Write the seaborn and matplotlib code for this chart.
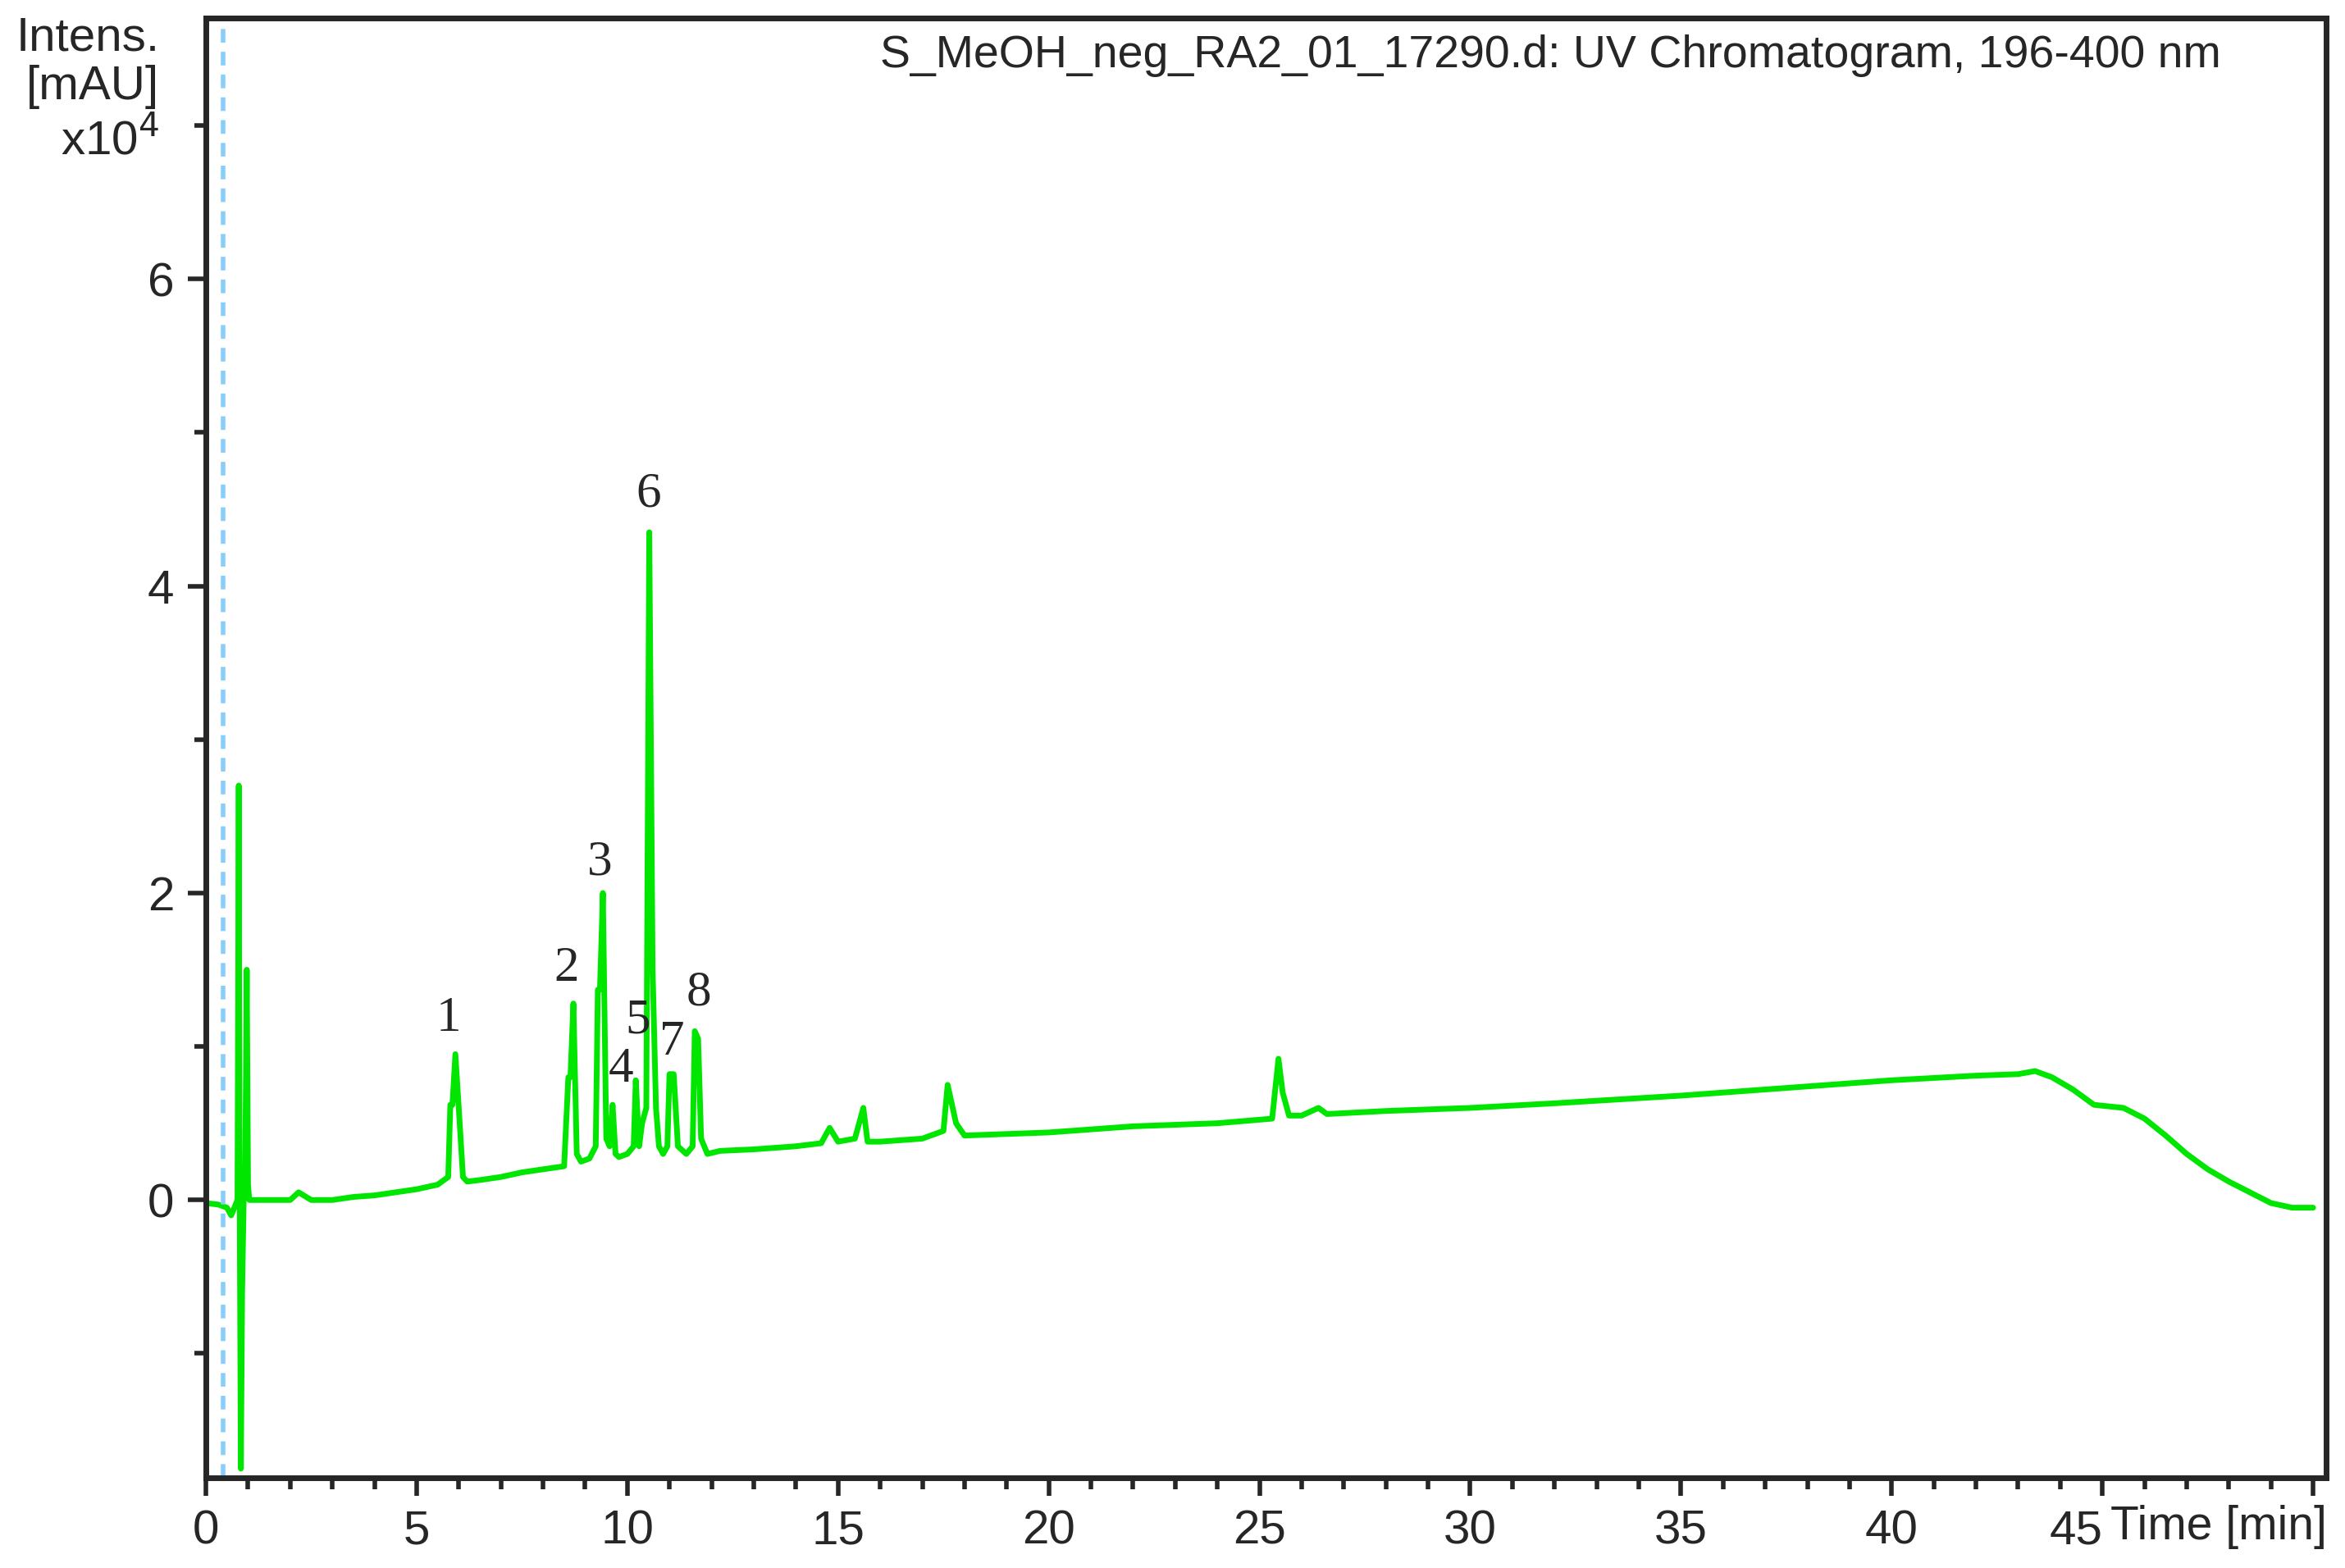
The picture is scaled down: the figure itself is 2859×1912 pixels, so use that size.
import matplotlib
matplotlib.use("Agg")
import matplotlib.pyplot as plt
import seaborn as sns
import pandas as pd
from matplotlib.ticker import MultipleLocator

# retention time [min] and intensity [x10^4 mAU]
time_min = [0.0, 0.3, 0.5, 0.6, 0.75, 0.78, 0.8, 0.83, 0.86, 0.9, 0.93, 0.97, 1.0, 1.03, 1.08,
            1.2, 1.6, 2.0, 2.2, 2.5, 3.0, 3.5, 4.0, 4.5, 5.0, 5.5, 5.75, 5.8, 5.85, 5.92, 6.0, 6.1, 6.2,
            6.5, 7.0, 7.5, 8.0, 8.5, 8.6, 8.65, 8.72, 8.8, 8.9, 9.1, 9.25, 9.3, 9.35, 9.42, 9.5,
            9.58, 9.65, 9.72, 9.8, 10.0, 10.15, 10.2, 10.28, 10.35, 10.45, 10.52, 10.6, 10.68, 10.75,
            10.85, 10.95, 11.0, 11.1, 11.2, 11.4, 11.55, 11.6, 11.68, 11.75, 11.9, 12.2, 13.0,
            14.0, 14.6, 14.8, 15.0, 15.4, 15.6, 15.7, 16.0, 17.0, 17.5, 17.6, 17.8, 18.0, 20.0,
            22.0, 24.0, 25.3, 25.45, 25.55, 25.7, 26.0, 26.4, 26.6, 28.0, 30.0, 32.0, 35.0, 38.0,
            40.0, 42.0, 43.0, 43.4, 43.8, 44.3, 44.8, 45.5, 46.0, 46.5, 47.0, 47.5, 48.0, 48.5,
            49.0, 49.5, 50.0]
intensity = [-0.02, -0.03, -0.05, -0.1, 0.0, 2.7, 0.1, -1.75, -0.6, 0.05, 0.05, 1.5, 0.1, 0.0, 0.0,
             0.0, 0.0, 0.0, 0.05, 0.0, 0.0, 0.02, 0.03, 0.05, 0.07, 0.1, 0.15, 0.62, 0.62, 0.95, 0.6, 0.15, 0.12,
             0.13, 0.15, 0.18, 0.2, 0.22, 0.8, 0.8, 1.28, 0.3, 0.25, 0.27, 0.35, 1.37, 1.37, 2.0, 0.4,
             0.35, 0.62, 0.3, 0.28, 0.3, 0.35, 0.78, 0.35, 0.5, 0.6, 4.35, 1.5, 0.6, 0.35,
             0.3, 0.35, 0.82, 0.82, 0.35, 0.3, 0.35, 1.1, 1.05, 0.4, 0.3, 0.32, 0.33,
             0.35, 0.37, 0.47, 0.38, 0.4, 0.6, 0.38, 0.38, 0.4, 0.45, 0.75, 0.5, 0.42, 0.44,
             0.48, 0.5, 0.53, 0.92, 0.7, 0.55, 0.55, 0.6, 0.56, 0.58, 0.6, 0.63, 0.68, 0.74,
             0.78, 0.81, 0.82, 0.84, 0.8, 0.72, 0.62, 0.6, 0.53, 0.42, 0.3, 0.2, 0.12, 0.05,
             -0.02, -0.05, -0.05]

peak_labels = ["1", "2", "3", "4", "5", "6", "7", "8"]
peak_times = [5.8, 8.6, 9.4, 9.9, 10.3, 10.55, 11.1, 11.75]
peak_heights = [1.03, 1.36, 2.05, 0.7, 1.02, 4.45, 0.88, 1.2]

df = pd.DataFrame({"time": time_min, "intens": intensity})

sns.set_style("ticks")
plt.rcParams["font.family"] = ["Liberation Sans", "DejaVu Sans"]

fig = plt.figure(figsize=(28.59, 19.12), dpi=100)
ax = fig.add_axes([0.0878, 0.0575, 0.904, 0.931])

sns.lineplot(data=df, x="time", y="intens", ax=ax, color="#00e600", lw=5,
             estimator=None, sort=False)
ax.axvline(0.4, color="#87cefa", lw=4, ls=(0, (3, 2)))

for lab, t, h in zip(peak_labels, peak_times, peak_heights):
    ax.text(t - 0.05, h, lab, ha="center", va="bottom", fontsize=44,
            family="Liberation Serif")

ax.set_xlim(0, 50.3)
ax.set_ylim(-1.81, 7.7)
ax.xaxis.set_minor_locator(MultipleLocator(1))
ax.yaxis.set_minor_locator(MultipleLocator(1))
ax.set_xticks(range(0, 51, 5))
ax.set_xticklabels([str(v) for v in range(0, 46, 5)] + [""])
ax.set_yticks([0, 2, 4, 6])
ax.tick_params(axis="both", which="major", length=16, width=4, labelsize=42, pad=12)
ax.tick_params(axis="both", which="minor", length=10, width=4)
ax.get_xticklabels()[9].set_ha("right")
for s in ax.spines.values():
    s.set_linewidth(5)
ax.set_xlabel("")
ax.set_ylabel("")

fig.text(0.9, 0.0575 - 0.017, "Time [min]", ha="left", va="top", fontsize=41)
fig.text(0.068, 0.99, "Intens.\n[mAU]", ha="right", va="top", fontsize=42,
         linespacing=1.15)
fig.text(0.068, 0.895, r"x10$^4$", ha="right", va="bottom", fontsize=42)
fig.text(0.947, 0.978, "S_MeOH_neg_RA2_01_17290.d: UV Chromatogram, 196-400 nm",
         ha="right", va="top", fontsize=40)

fig.savefig("out.png", dpi=100)
